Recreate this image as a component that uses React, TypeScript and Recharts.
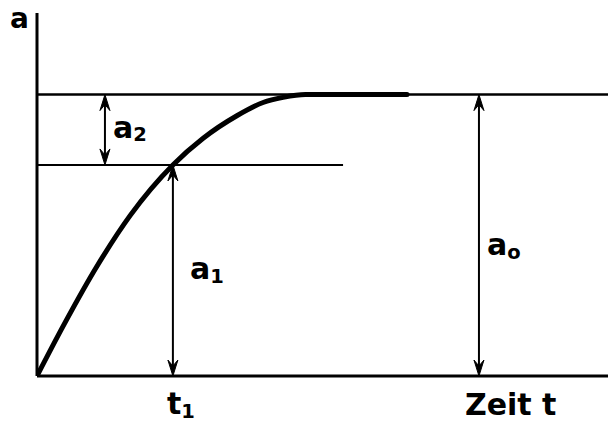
import React from "react";
import {
  ComposedChart, Line, XAxis, YAxis, ReferenceLine,
} from "recharts";

// curve a(t) (t in 0..100, a relative to a0)
const curveT = [0, 4.6, 10.5, 16.3, 23.8, 29.1, 35.0, 39.6, 43.1, 47.0, 64.8];
const curveA = [0, 0.178, 0.39, 0.57, 0.75, 0.845, 0.925, 0.972, 0.99, 1.0, 1.0];

const A0 = 1.0;       // final value
const A1 = 0.75;      // value at t1
const T1 = 23.8;
const A2_X = 11.9;    // where the a2 arrow sits
const A0_X = 77.4;    // where the a0 arrow sits
const A1_LINE_END = 53.6;

const xTicks = [T1, A0_X];
const xTickLabels = ["t", "Zeit t"];
const xTickSubs = ["1", ""];

const data = curveT.map((t, i) => ({ t, a: curveA[i] }));

const FONT = "'DejaVu Sans', sans-serif";

function SubText({ x, y, main, sub, size = 30, anchor = "start" }: any) {
  return (
    <text x={x} y={y} fontFamily={FONT} fontWeight="bold" fontSize={size} fill="#000" textAnchor={anchor}>
      <tspan>{main}</tspan>
      {sub ? <tspan fontSize={size * 0.65} dy={size * 0.12}>{sub}</tspan> : null}
    </text>
  );
}

function DoubleArrow(props: any) {
  const { x1, y1, x2, y2 } = props;
  const x = x1;
  const top = Math.min(y1, y2);
  const bot = Math.max(y1, y2);
  const hw = 5, hl = 16, notch = 10;
  return (
    <g>
      <line x1={x} y1={top + 4} x2={x2} y2={bot - 4} stroke="#000" strokeWidth={2} />
      <path d={`M${x},${top} L${x - hw},${top + hl} L${x},${top + notch} L${x + hw},${top + hl} Z`} fill="#000" stroke="#000" strokeWidth={1} strokeLinejoin="round" />
      <path d={`M${x},${bot} L${x - hw},${bot - hl} L${x},${bot - notch} L${x + hw},${bot - hl} Z`} fill="#000" stroke="#000" strokeWidth={1} strokeLinejoin="round" />
    </g>
  );
}

const arrowLabel = (main: string, sub: string, dx: number, dyFromMid: number) => (p: any) => {
  const vb = p.viewBox || {};
  const mid = vb.y + vb.height / 2;
  return <SubText x={vb.x + dx} y={mid + dyFromMid} main={main} sub={sub} />;
};

function XTick(props: any) {
  const { x, y, index } = props;
  if (index === 0) {
    return <SubText x={x - 6} y={y + 30} main={xTickLabels[0]} sub={xTickSubs[0]} />;
  }
  return <SubText x={x - 14} y={y + 31} main={xTickLabels[1]} sub={xTickSubs[1]} />;
}

export default function App() {
  return (
    <div style={{ position: "absolute", left: 0, top: 0, background: "#fff" }}>
      <ComposedChart
        width={608}
        height={423}
        data={data}
        margin={{ top: 13, right: 0, bottom: 0, left: 0 }}
      >
        <XAxis
          dataKey="t"
          type="number"
          domain={[0, 100]}
          ticks={xTicks}
          tick={<XTick />}
          tickLine={false}
          axisLine={{ stroke: "#000", strokeWidth: 3 }}
          height={47}
          allowDataOverflow
        />
        <YAxis
          type="number"
          domain={[0, 1.29]}
          tick={false}
          tickLine={false}
          axisLine={{ stroke: "#000", strokeWidth: 3 }}
          width={37}
          allowDataOverflow
          label={{
            content: (p: any) => {
              const vb = p.viewBox || {};
              return <SubText x={vb.x + vb.width - 27} y={vb.y + 15} main="a" size={28} />;
            },
          }}
        />
        <ReferenceLine y={A0} stroke="#000" strokeWidth={2.5} />
        <ReferenceLine
          segment={[{ x: 0, y: A1 }, { x: A1_LINE_END, y: A1 }]}
          stroke="#000"
          strokeWidth={2}
        />
        <ReferenceLine
          segment={[{ x: A2_X, y: A1 }, { x: A2_X, y: A0 }]}
          shape={DoubleArrow}
          label={{ content: arrowLabel("a", "2", 8, 8) }}
        />
        <ReferenceLine
          segment={[{ x: T1, y: 0 }, { x: T1, y: A1 }]}
          shape={DoubleArrow}
          label={{ content: arrowLabel("a", "1", 17, 9) }}
        />
        <ReferenceLine
          segment={[{ x: A0_X, y: 0 }, { x: A0_X, y: A0 }]}
          shape={DoubleArrow}
          label={{ content: arrowLabel("a", "o", 8, 20) }}
        />
        <Line
          type="monotone"
          dataKey="a"
          stroke="#000"
          strokeWidth={5}
          strokeLinecap="round"
          dot={false}
          activeDot={false}
          isAnimationActive={false}
        />
      </ComposedChart>
    </div>
  );
}
